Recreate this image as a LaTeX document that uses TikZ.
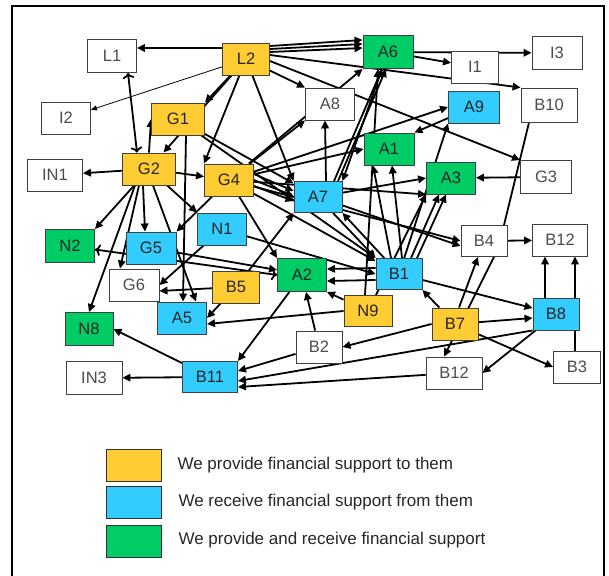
\documentclass[tikz,border=0pt]{standalone}
\usepackage{fontspec}
\setmainfont{Liberation Sans}
\usetikzlibrary{arrows.meta}
\pgfdeclarelayer{bg}\pgfsetlayers{bg,main}
\definecolor{cy}{HTML}{FFCC33}
\definecolor{cb}{HTML}{33CCFF}
\definecolor{cg}{HTML}{00CC66}
\begin{document}
\begin{tikzpicture}[x=1pt,y=-1pt,
 nd/.style={draw=black!75,line width=0.9pt,minimum height=32pt,minimum width=49pt,inner sep=0pt,font=\fontsize{16.5}{17}\selectfont},
 yel/.style={nd,fill=cy,text=black!85},
 blu/.style={nd,fill=cb,text=black!85},
 grn/.style={nd,fill=cg,text=black!85},
 wht/.style={nd,fill=white,text=black!70},
 ar/.style={-{Triangle[length=8pt,width=7.5pt]},line width=1.8pt},
 ln/.style={line width=1.8pt},
 thinar/.style={-{Triangle[length=6pt,width=5pt]},line width=0.8pt},
 leg/.style={draw=black!80,line width=1pt,minimum width=55pt,minimum height=32pt,inner sep=0pt},
 legtxt/.style={anchor=west,font=\fontsize{17}{18}\selectfont,text=black!85}]
\useasboundingbox (0,0) rectangle (609,575);
\draw[line width=2pt] (12,585) -- (12,6) -- (604,6) -- (604,585);
% nodes
\node[wht,minimum width=49pt,minimum height=33pt] (L1) at (112,56) {L1};
\node[yel,minimum width=47pt] (L2) at (246,59) {L2};
\node[wht] (I2) at (66,118) {I2};
\node[yel,minimum width=53pt] (G1) at (178,119) {G1};
\node[wht,minimum width=55pt] (IN1) at (55,175) {IN1};
\node[yel,minimum width=53pt] (G2) at (149,169) {G2};
\node[yel] (G4) at (229,180) {G4};
\node[grn,minimum width=50pt,minimum height=33pt] (A6) at (388,52) {A6};
\node[wht,minimum width=50pt,minimum height=33pt] (I3) at (557,53) {I3};
\node[wht,minimum width=47pt] (I1) at (475,67) {I1};
\node[wht] (A8) at (330,104) {A8};
\node[blu,minimum width=51pt] (A9) at (474,107) {A9};
\node[wht,minimum width=56pt,minimum height=34pt] (B10) at (549,105) {B10};
\node[grn,minimum width=50pt] (A1) at (389,149) {A1};
\node[grn] (A3) at (451,178) {A3};
\node[wht,minimum width=51pt,minimum height=33pt] (G3) at (546,177) {G3};
\node[blu,minimum width=48pt,minimum height=31pt] (A7) at (318,197) {A7};
\node[blu] (N1) at (222,229) {N1};
\node[grn,minimum height=33pt] (A2) at (302,275) {A2};
\node[blu,minimum width=46pt,minimum height=31pt] (B1) at (399,274) {B1};
\node[yel,minimum width=47pt] (B5) at (236,287) {B5};
\node[yel,minimum width=48pt,minimum height=31pt] (N9) at (368,311) {N9};
\node[blu,minimum width=50pt] (G5) at (151,248) {G5};
\node[grn,minimum height=33pt] (N2) at (70,246) {N2};
\node[wht,minimum width=50pt] (G6) at (134,285) {G6};
\node[blu] (A5) at (182,318) {A5};
\node[grn,minimum width=48pt,minimum height=33pt] (N8) at (89,329) {N8};
\node[wht,minimum width=56pt,minimum height=33pt] (IN3) at (94,378) {IN3};
\node[blu,minimum width=55pt,minimum height=31pt] (B11) at (210,377) {B11};
\node[wht,minimum width=46pt] (B2) at (319,347) {B2};
\node[wht,minimum width=46pt,minimum height=31pt] (B4) at (484,241) {B4};
\node[wht,minimum width=55pt] (B12a) at (560,240) {B12};
\node[blu,minimum width=46pt] (B8) at (556,314) {B8};
\node[yel,minimum width=46pt] (B7) at (455,324) {B7};
\node[wht,minimum width=56pt] (B12b) at (454,373) {B12};
\node[wht,minimum width=47pt] (B3) at (577,367) {B3};
% legend
\node[leg,fill=cy] (K1) at (133.5,465) {};
\node[leg,fill=cb] (K2) at (133.5,502.5) {};
\node[leg,fill=cg] (K3) at (133.5,541.5) {};
\node[legtxt] (T1) at (174,465) {We provide financial support to them};
\node[legtxt] (T2) at (175,502) {We receive financial support from them};
\node[legtxt] (T3) at (175,540) {We provide and receive financial support};
% edges
\begin{pgfonlayer}{bg}
\draw[ar] ([yshift=11pt]L2.west) -- ([yshift=11pt]L2.west -| L1.east);
\draw[thinar] (L2) -- (I2);
\draw[ar] (L2) -- (G1.north east);
\draw[ar] (L2) -- (G2);
\draw[ar] (L2) -- (G4.north west);
\draw[ar] (L2) -- (A7.north west);
\draw[ar] (L2) -- (A8.north west);
\draw[ar] ([yshift=13pt]L2.east) -- ([yshift=12pt]A6.west);
\draw[ar] ([yshift=10pt]L2.east) -- ([yshift=8pt]A6.west);
\draw[ar] ([yshift=7pt]L2.east) -- ([yshift=4pt]A6.west);
\draw[ar] ([yshift=4pt]L2.east) -- (B10.north west);
\draw[ar] ([yshift=-2pt]L2.east) -- (G3.north west);
\draw[ar] (A6) -- (I3);
\draw[ar] (A6) -- (I1);
\draw[ar] (A6) -- (A7.north east);
\draw[ar,<->] ([xshift=-12pt]G2.north) -- ([xshift=16pt]L1.south);
\draw[ar] (G2.north) -- (G1.west);
\draw[ar] (G2) -- (IN1);
\draw[ar] (G2) -- (G4);
\draw[ar] (G2) -- (N2.north east);
\draw[ar] ([xshift=-14pt]G2.south) -- (N8.north);
\draw[ar] ([xshift=-10pt]G2.south) -- ([xshift=-14pt]G6.north);
\draw[ar] ([xshift=-6pt]G2.south) -- ([xshift=-6pt]G5.north);
\draw[ar] ([xshift=4pt]G2.south) -- ([xshift=14pt]A5.north);
\draw[ar] (G2) -- (N1.north west);
\draw[ar] ([xshift=8pt]G1.south) -- ([xshift=1pt]A5.north);
\draw[ar] (G1) -- (A7);
\draw[ar] (G1) -- (B1.north west);
\draw[ar] ([yshift=6pt]G4.east) -- ([yshift=6pt]A7.west);
\draw[ar] ([yshift=0pt]G4.east) -- ([yshift=1pt]A7.west);
\draw[ar] ([yshift=-6pt]G4.east) -- ([yshift=-4pt]A7.west);
\draw[ar] (G4) -- (A8.south west);
\draw[ar] (G4) -- (A6.south west);
\draw[ar] (G4) -- (A1.west);
\draw[ar] (G4) -- (A9.west);
\draw[ar] (G4) -- (A3.south west);
\draw[ar] (G4) -- (B1);
\draw[ar] (G4) -- (A2.north west);
\draw[ar] (G4) -- (G5.north east);
\draw[ar] (G4) -- (B4.west);
\draw[ar] ([xshift=8pt]A7.north) -- ([xshift=-5pt]A8.south);
\draw[ar] ([xshift=16pt]A7.north) -- ([xshift=-6pt]A6.south);
\draw[ar] ([xshift=20pt]A7.north) -- ([xshift=-2pt]A6.south);
\draw[ar] (A7) -- ([yshift=-5pt]B4.west);
\draw[ar] (A7) -- (A3.west);
\draw[ar] (B1) -- (A7.south east);
\draw[ar] (A7) -- (B1.north west);
\draw[ar] ([xshift=-8pt]B1.north) -- ([xshift=-16pt]A1.south);
\draw[ar] ([xshift=3pt]B1.north) -- ([xshift=3pt]A1.south);
\draw[ar] ([xshift=-3pt]N9.north) -- ([xshift=-10pt]A6.south);
\draw[ar] ([xshift=12pt]B1.north) -- ([xshift=-12pt]A3.south);
\draw[ar] ([xshift=18pt]B1.north) -- ([xshift=-5pt]A3.south);
\draw[ar] ([yshift=-6pt]B1.west) -- ([yshift=-6pt]A2.east);
\draw[ar] ([yshift=6pt]B1.west) -- ([yshift=6pt]A2.east);
\draw[ar] (B1) -- ([yshift=6pt]B8.west);
\draw[ar] (B1) -- (A9.south west);
\draw[ar] (B7) -- (B1.south east);
\draw[ar] (N9) -- (A2.south east);
\draw[ar] (N9.west) -- ([yshift=-6pt]A5.east);
\draw[ar] (N9) -- (A3.south west);
\draw[ar] (N1) -- (B1.west);
\draw[ar] (N1) -- (G6.east);
\draw[ar] (G5) -- ([yshift=5pt]A2.west);
\draw[ar,<->] (N2) -- (A2.west);
\draw[ar] (B5) -- (A7.south west);
\draw[ar] (B5) -- ([yshift=-6pt]G6.east);
\draw[ar] (B5) -- (A5.east);
\draw[ar] (A2) -- (B11.north east);
\draw[ar] (B2) -- (A2);
\draw[ar] (B2) -- ([yshift=6pt]B11.east);
\draw[ar] (B7.west) -- (B2.east);
\draw[ar] ([xshift=4pt]B7.north) -- ([xshift=-6pt]B4.south);
\draw[ar] (B7) -- ([yshift=-4pt]B8.west);
\draw[ar] (B7) -- (B3.west);
\draw[ar] ([xshift=-11pt]B8.north) -- ([xshift=-11pt]B8.north |- B12a.south);
\draw[ar] ([xshift=19pt]B8.north) -- ([xshift=19pt]B8.north |- B12a.south);
\draw[ar] (B8) -- (B12b.east);
\draw[ar] (B8.south west) -- ([yshift=-4pt]B11.east);
\draw[ln] ([xshift=19pt]B8.south) -- ([xshift=19pt]B8.south |- B3.north);
\draw[ar] (B4) -- (B12a);
\draw[ar] ([xshift=10pt]B4.south) -- ([xshift=-10pt]B12b.north);
\draw[ln] ([xshift=-20pt]B10.south) -- ([xshift=20pt]B4.north);
\draw[ar] (G3) -- (A3);
\draw[ar] (A9) -- (A1.north east);
\draw[ar] (B12b) -- ([yshift=-10pt]B11.east);
\draw[ar] (B11) -- (IN3);
\draw[ar] (B11) -- (N8.east);
\end{pgfonlayer}
\end{tikzpicture}
\end{document}
